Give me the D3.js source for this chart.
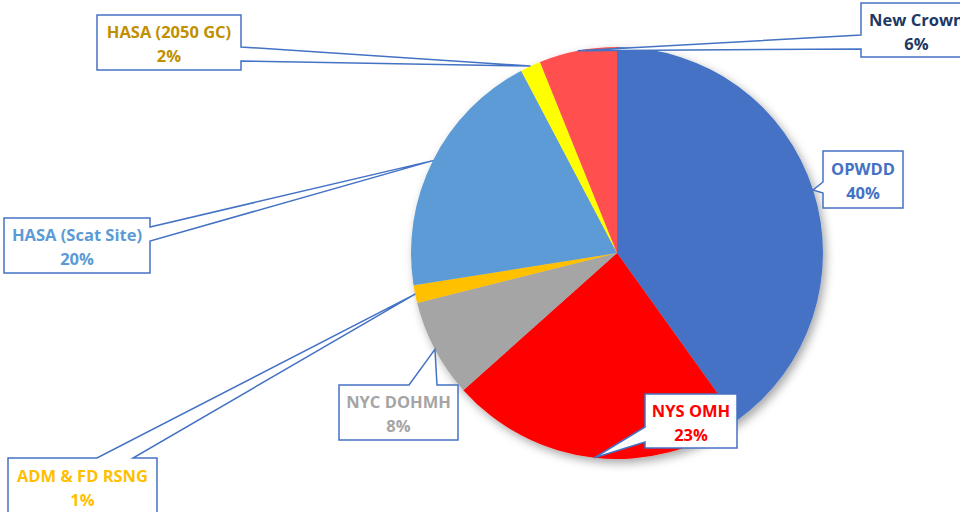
<!DOCTYPE html>
<html><head><meta charset="utf-8">
<script src="https://cdn.jsdelivr.net/npm/d3@7"></script>
<style>html,body{margin:0;padding:0;background:#fff;overflow:hidden}</style>
</head><body>
<svg id="chart" width="960" height="512"></svg>
<script>
// Data
const categories = ["OPWDD","NYS OMH","NYC DOHMH","ADM & FD RSNG","HASA (Scat Site)","HASA (2050 GC)","New Crown"];
const values = [40.1, 23.3, 7.7, 1.4, 19.8, 1.6, 6.1];
const percentLabels = ["40%","23%","8%","1%","20%","2%","6%"];
const colors = ["#4472C4","#FF0000","#A5A5A5","#FFC000","#5B9BD5","#FFFF00","#FF5050"];
const textColors = ["#4472C4","#FF0000","#A5A5A5","#FFC000","#5B9BD5","#BF9000","#203864"];

// Layout of callouts (box x0,y0,x1,y1, pointer side, pointer base)
const callouts = [
  {box:[823,151,903,208], side:"left",  base:[182,193]},
  {box:[645,394,737,448], side:"left",  base:[427,442]},
  {box:[339,385,458,440], side:"top",   base:[409,437]},
  {box:[8,458,157,518],   side:"top",   base:[97,133]},
  {box:[4,218,150,273],   side:"right", base:[227,241]},
  {box:[97,15,241,70],    side:"right", base:[47,61]},
  {box:[861,3,972,57],    side:"left",  base:[35,49]}
];

const svg = d3.select("#chart");
const cx = 617, cy = 253, r = 206;

const defs = svg.append("defs");
const f = defs.append("filter").attr("id","shadow").attr("x","-20%").attr("y","-20%").attr("width","140%").attr("height","140%");
f.append("feDropShadow").attr("dx",3).attr("dy",4).attr("stdDeviation",5).attr("flood-color","#000").attr("flood-opacity",0.35);

const pie = d3.pie().sort(null).value(d=>d)(values);
const arc = d3.arc().innerRadius(0).outerRadius(r);

const g = svg.append("g").attr("transform",`translate(${cx},${cy})`);
g.append("g").attr("filter","url(#shadow)")
  .selectAll("path").data(pie).join("path")
  .attr("d",arc).attr("fill",(d,i)=>colors[i]);

// tip points: outer edge at mid-angle
const tips = pie.map(d=>{
  const a = (d.startAngle+d.endAngle)/2;
  return [cx + r*Math.sin(a), cy - r*Math.cos(a)];
});

function calloutPath(c, tip){
  const [x0,y0,x1,y1] = c.box, [b1,b2] = c.base;
  const p = d3.path();
  p.moveTo(x0,y0);
  if(c.side==="top"){ p.lineTo(b1,y0); p.lineTo(tip[0],tip[1]); p.lineTo(b2,y0); }
  p.lineTo(x1,y0);
  if(c.side==="right"){ p.lineTo(x1,b1); p.lineTo(tip[0],tip[1]); p.lineTo(x1,b2); }
  p.lineTo(x1,y1);
  p.lineTo(x0,y1);
  if(c.side==="left"){ p.lineTo(x0,b2); p.lineTo(tip[0],tip[1]); p.lineTo(x0,b1); }
  p.closePath();
  return p.toString();
}

const lab = svg.append("g");
callouts.forEach((c,i)=>{
  lab.append("path").attr("d",calloutPath(c,tips[i]))
    .attr("fill","#fff").attr("stroke","#4472C4").attr("stroke-width",1.5);
  const mx = (c.box[0]+c.box[2])/2, my = (c.box[1]+c.box[3])/2;
  const isAdm = i===3;
  const ty = isAdm ? c.box[1]+28 : my;
  const t = lab.append("text").attr("text-anchor","middle")
    .attr("font-family","'Open Sans', sans-serif").attr("font-weight","bold")
    .attr("font-size","16.5px").attr("fill",textColors[i]);
  t.append("tspan").attr("x",mx).attr("y",ty-11).attr("dominant-baseline","central").text(categories[i]);
  t.append("tspan").attr("x",mx).attr("y",ty+13).attr("dominant-baseline","central").text(percentLabels[i]);
});
</script>
</body></html>
